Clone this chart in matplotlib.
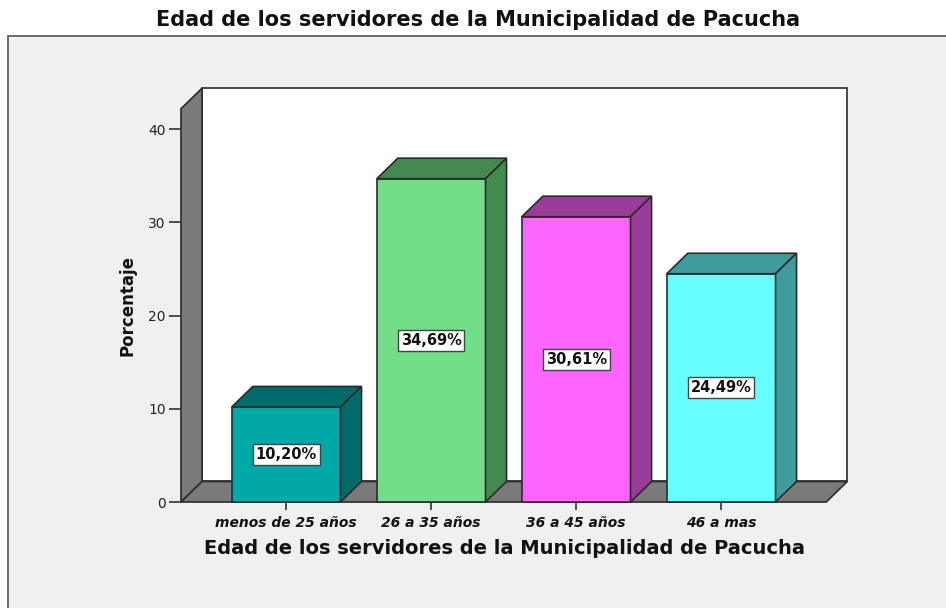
import matplotlib
matplotlib.use("Agg")
import matplotlib.pyplot as plt
from matplotlib.patches import Polygon, Rectangle

categorias = ["menos de 25 años", "26 a 35 años", "36 a 45 años", "46 a mas"]
porcentajes = [10.20, 34.69, 30.61, 24.49]
etiquetas = ["10,20%", "34,69%", "30,61%", "24,49%"]
colores_frente = ["#00a8a8", "#72de88", "#ff66ff", "#66ffff"]
colores_lado = ["#006b6b", "#428a50", "#9a3d9a", "#3e9c9c"]
y_ticks = [0, 10, 20, 30, 40]

# profundidad del efecto 3D (en unidades de datos)
dx = 0.145
dy = 2.2
ancho = 0.75
x_min, x_max = -0.725, 3.725
alto_pared = 42.2
borde = "#2b2b2b"

fig = plt.figure(figsize=(9.46, 6.08), dpi=100)
fig.patch.set_facecolor("white")

# panel gris de fondo
fig.patches.append(Rectangle((8 / 946, -0.01), 1.0, (608 - 36) / 608 + 0.01,
                             transform=fig.transFigure, facecolor="#f0f0f0",
                             edgecolor="#555555", linewidth=1.2, zorder=-5))

fig.text(478 / 946, 1 - 20 / 608, "Edad de los servidores de la Municipalidad de Pacucha",
         ha="center", va="center", fontsize=15, fontweight="bold",
         family="DejaVu Sans", color="#111111")

ax = fig.add_axes([181 / 946, (608 - 502) / 608, (847.3 - 181) / 946, (502 - 88.2) / 608])
ax.set_xlim(x_min, x_max + dx)
ax.set_ylim(0, alto_pared + dy)
ax.patch.set_alpha(0)
for s in ax.spines.values():
    s.set_visible(False)


def cara(puntos, color, z):
    ax.add_patch(Polygon(puntos, closed=True, facecolor=color, edgecolor=borde,
                         lw=1.2, zorder=z, clip_on=False))


# pared del fondo, pared izquierda y piso
cara([(x_min + dx, dy), (x_max + dx, dy), (x_max + dx, alto_pared + dy),
      (x_min + dx, alto_pared + dy)], "white", 1)
cara([(x_min, 0), (x_min + dx, dy), (x_min + dx, alto_pared + dy), (x_min, alto_pared)],
     "#7a7a7a", 1)
cara([(x_min, 0), (x_max, 0), (x_max + dx, dy), (x_min + dx, dy)], "#7a7a7a", 1)

for i, v in enumerate(porcentajes):
    x0 = i - ancho / 2
    x1 = i + ancho / 2
    cara([(x0, 0), (x1, 0), (x1, v), (x0, v)], colores_frente[i], 3)
    cara([(x0, v), (x1, v), (x1 + dx, v + dy), (x0 + dx, v + dy)], colores_lado[i], 3)
    cara([(x1, 0), (x1 + dx, dy), (x1 + dx, v + dy), (x1, v)], colores_lado[i], 3)
    ax.text(i, v / 2, etiquetas[i], ha="center", va="center", fontsize=10.5,
            fontweight="bold", color="#111111", family="DejaVu Sans", zorder=5,
            bbox=dict(boxstyle="square,pad=0.2", facecolor="white",
                      edgecolor="#444444", linewidth=1))

ax.set_yticks(y_ticks)
ax.set_yticklabels([str(t) for t in y_ticks], fontsize=10, color="#222222",
                   family="DejaVu Sans")
ax.tick_params(axis="y", length=9, width=1.2, color="#333333", pad=2)
ax.set_xticks(range(len(categorias)))
ax.set_xticklabels(categorias, fontsize=10, fontweight="bold", fontstyle="italic",
                   color="#111111", family="DejaVu Sans")
ax.tick_params(axis="x", length=6, width=1.2, color="#333333", pad=4)

fig.text(127 / 946, 1 - 305 / 608, "Porcentaje", rotation=90, ha="center", va="center",
         fontsize=12, fontweight="bold", family="DejaVu Sans", color="#111111")
fig.text(504 / 946, 1 - 549 / 608, "Edad de los servidores de la Municipalidad de Pacucha",
         ha="center", va="center", fontsize=14, fontweight="bold",
         family="DejaVu Sans", color="#111111")

fig.savefig("out.png", dpi=100)
